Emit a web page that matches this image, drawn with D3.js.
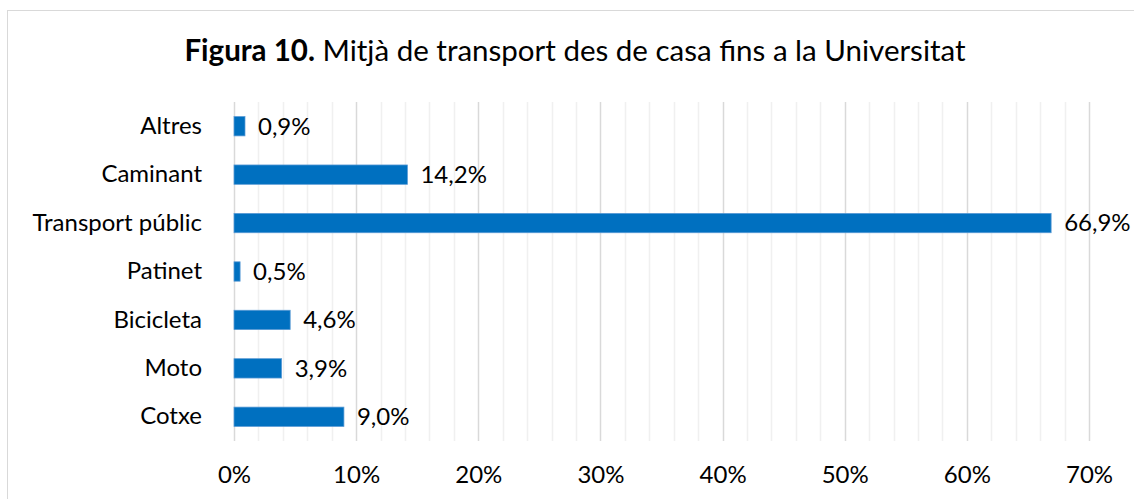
<!DOCTYPE html>
<html>
<head>
<meta charset="utf-8">
<script src="https://cdn.jsdelivr.net/npm/d3@7"></script>
<style>
  body { margin: 0; background: #fff; }
  svg { display: block; font-family: Lato, "Open Sans", sans-serif; }
</style>
</head>
<body>
<svg></svg>
<script>
var width = 1134;
var height = 499;

var categories = ['Altres', 'Caminant', 'Transport públic', 'Patinet', 'Bicicleta', 'Moto', 'Cotxe'];
var values = [0.9, 14.2, 66.9, 0.5, 4.6, 3.9, 9.0];
var majorTicks = [0, 10, 20, 30, 40, 50, 60, 70];
var minorTicks = d3.range(0, 71, 2);

var margin = {top: 102, right: 45, bottom: 58, left: 234};
var fontSize = 24;

var svg = d3.select('svg')
  .attr('width', width)
  .attr('height', height);

// chart area border
svg.append('rect')
  .attr('x', 7.5)
  .attr('y', 10.5)
  .attr('width', width + 20)
  .attr('height', height)
  .attr('fill', 'none')
  .attr('stroke', '#d9d9d9');

var x = d3.scaleLinear()
  .domain([0, 70])
  .range([margin.left, width - margin.right]);

var y = d3.scaleBand()
  .domain(categories)
  .range([margin.top, height - margin.bottom])
  .paddingInner(0.6)
  .paddingOuter(0.3);

// minor gridlines
svg.append('g')
  .selectAll('line')
  .data(minorTicks.filter(function(d) { return d % 10 !== 0; }))
  .enter()
  .append('line')
  .attr('x1', function(d) { return Math.round(x(d)) + 0.5; })
  .attr('x2', function(d) { return Math.round(x(d)) + 0.5; })
  .attr('y1', margin.top)
  .attr('y2', height - margin.bottom)
  .attr('stroke', '#f0f0f0')
  .attr('stroke-width', 1.5);

// major gridlines
svg.append('g')
  .selectAll('line')
  .data(majorTicks)
  .enter()
  .append('line')
  .attr('x1', function(d) { return Math.round(x(d)) + 0.5; })
  .attr('x2', function(d) { return Math.round(x(d)) + 0.5; })
  .attr('y1', margin.top)
  .attr('y2', height - margin.bottom)
  .attr('stroke', '#d9d9d9')
  .attr('stroke-width', 1.5);

// x axis labels
var xAxis = d3.axisBottom(x)
  .tickValues(majorTicks)
  .tickFormat(function(d) { return d + '%'; })
  .tickSize(0)
  .tickPadding(25);

svg.append('g')
  .attr('transform', `translate(0, ${height - margin.bottom})`)
  .call(xAxis)
  .call(function(g) { g.select('.domain').remove(); })
  .selectAll('text')
  .attr('font-family', 'Lato, "Open Sans", sans-serif')
  .attr('font-size', fontSize)
  .attr('fill', '#000');

// y axis labels
var yAxis = d3.axisLeft(y)
  .tickSize(0)
  .tickPadding(32);

svg.append('g')
  .attr('transform', `translate(${margin.left}, 0)`)
  .call(yAxis)
  .call(function(g) { g.select('.domain').remove(); })
  .selectAll('text')
  .attr('font-family', 'Lato, "Open Sans", sans-serif')
  .attr('font-size', fontSize)
  .attr('fill', '#000');

// bars
svg.append('g')
  .selectAll('rect')
  .data(values)
  .enter()
  .append('rect')
  .attr('x', x(0))
  .attr('y', function(d, i) { return y(categories[i]); })
  .attr('width', function(d) { return x(d) - x(0); })
  .attr('height', y.bandwidth())
  .attr('fill', '#0070c0')
  .attr('stroke', '#5b9bd5')
  .attr('stroke-width', 0.75);

// value labels
svg.append('g')
  .selectAll('text')
  .data(values)
  .enter()
  .append('text')
  .attr('x', function(d) { return x(d) + 13; })
  .attr('y', function(d, i) { return y(categories[i]) + y.bandwidth() / 2; })
  .attr('dy', '0.35em')
  .attr('font-size', fontSize)
  .attr('fill', '#000')
  .text(function(d) { return d.toFixed(1).replace('.', ',') + '%'; });

// title
var title = svg.append('text')
  .attr('x', 575)
  .attr('y', 61)
  .attr('text-anchor', 'middle')
  .attr('font-size', 29.5)
  .attr('fill', '#000');
title.append('tspan').attr('font-weight', 'bold').text('Figura 10.');
title.append('tspan').text(' Mitjà de transport des de casa fins a la Universitat');
</script>
</body>
</html>
